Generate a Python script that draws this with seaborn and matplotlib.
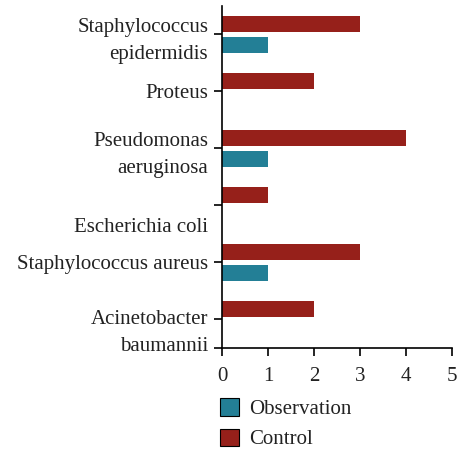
import matplotlib
matplotlib.use("Agg")
import matplotlib.pyplot as plt
import matplotlib.transforms as mtransforms
from matplotlib.patches import Patch
import seaborn as sns
import pandas as pd

categories = ["Staphylococcus\nepidermidis", "Proteus", "Pseudomonas\naeruginosa",
              "Escherichia coli", "Staphylococcus aureus", "Acinetobacter\nbaumannii"]
control = [3, 2, 4, 1, 3, 2]
observation = [1, 0, 1, 0, 1, 0]
groups = ["Control", "Observation"]
colors = {"Control": "#96201A", "Observation": "#237F96"}

rows = []
for c, v in zip(categories, control):
    rows.append({"cat": c, "group": "Control", "val": v})
for c, v in zip(categories, observation):
    rows.append({"cat": c, "group": "Observation", "val": v})
df = pd.DataFrame(rows)

FS = 15
sns.set_style("white")
plt.rcParams['font.family'] = ['Liberation Serif', 'DejaVu Serif']
plt.rcParams['font.size'] = FS

fig = plt.figure(figsize=(4.57, 4.53), dpi=100)
ax = fig.add_axes([0.486, 0.232, 0.503, 0.755])
sns.barplot(data=df, y="cat", x="val", hue="group", hue_order=groups,
            order=categories, palette=colors, orient="h", width=0.75, gap=0.25,
            ax=ax, legend=False, saturation=1, linewidth=0)

ax.set_xlim(0, 5)
ax.set_ylim(5.5, -0.5)
ax.set_xticks(range(6))
ax.set_xlabel("")
ax.set_ylabel("")
for s in ["top", "right"]:
    ax.spines[s].set_visible(False)
for s in ["left", "bottom"]:
    ax.spines[s].set_color("black")
    ax.spines[s].set_linewidth(1.2)
ax.tick_params(axis="both", which="major", length=6, width=1.2, color="black",
               labelsize=FS, labelcolor="#222222", direction="out", left=True, bottom=True)
ax.tick_params(axis="y", pad=4)
ax.tick_params(axis="x", pad=8)
ax.set_yticks([5.5], minor=True)
ax.tick_params(axis="y", which="minor", length=6, width=1.2, color="black", left=True)

for lab in ax.get_yticklabels():
    lab.set_linespacing(1.55)
    if lab.get_text() == "Escherichia coli":
        off = mtransforms.ScaledTranslation(0, -20 / 100, fig.dpi_scale_trans)
        lab.set_transform(lab.get_transform() + off)
    if lab.get_text().startswith("Acinetobacter"):
        off = mtransforms.ScaledTranslation(0, -7 / 100, fig.dpi_scale_trans)
        lab.set_transform(lab.get_transform() + off)

handles = [Patch(facecolor=colors["Observation"], edgecolor="black", linewidth=0.8, label="Observation"),
           Patch(facecolor=colors["Control"], edgecolor="black", linewidth=0.8, label="Control")]
fig.legend(handles=handles, loc="upper left", bbox_to_anchor=(0.455, 0.148),
           frameon=False, handlelength=0.9, handleheight=0.9, handletextpad=0.5,
           labelspacing=0.45, fontsize=FS, labelcolor="#222222", borderpad=0.1)

fig.savefig("out.png", dpi=100)
